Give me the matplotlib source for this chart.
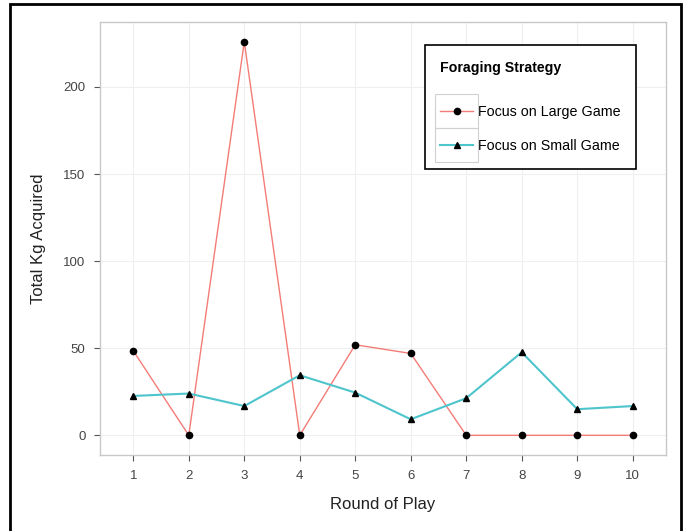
import matplotlib
matplotlib.use("Agg")
import matplotlib.pyplot as plt
from matplotlib.patches import Rectangle

# --- Data ---
rounds = [1, 2, 3, 4, 5, 6, 7, 8, 9, 10]
large_game = [48.5, 0, 226, 0, 52, 47, 0, 0, 0, 0]
small_game = [22.6, 24, 16.8, 34.5, 24.5, 9.2, 21.3, 47.7, 15, 16.8]
y_ticks = [0, 50, 100, 150, 200]

plt.rcParams.update({
    "font.family": ["Liberation Sans", "DejaVu Sans"],
    "font.size": 10,
})

red = "#F47C77"
cyan = "#4EC4CC"

fig = plt.figure(figsize=(6.83, 5.31), dpi=100)
ax = fig.add_axes([100 / 683, 1 - 455 / 531, 566 / 683, 433 / 531])

ax.plot(rounds, large_game, color=red, linewidth=1.0, marker="o",
        markersize=4.5, markerfacecolor="black", markeredgecolor="black",
        label="Focus on Large Game", zorder=3)
ax.plot(rounds, small_game, color=cyan, linewidth=1.5, marker="^",
        markersize=5, markerfacecolor="black", markeredgecolor="black",
        label="Focus on Small Game", zorder=3)

ax.set_xlim(0.4, 10.6)
ax.set_ylim(-11.3, 237.3)
ax.set_xticks(rounds)
ax.set_yticks(y_ticks)

ax.grid(True, color="#EFEFEF", linewidth=0.8, zorder=0)
ax.set_axisbelow(True)
for sp in ax.spines.values():
    sp.set_color("#C8C8C8")
    sp.set_linewidth(1.0)

ax.tick_params(axis="both", length=4, width=0.8, color="#555555",
               labelcolor="#444444", labelsize=9.5, pad=6.5)

ax.set_xlabel("Round of Play", fontsize=12, color="#222222", labelpad=11)
ax.set_ylabel("Total Kg Acquired", fontsize=12, color="#222222", labelpad=12)

leg = ax.legend(
    loc="upper right",
    bbox_to_anchor=((636 - 100) / 566, 1 - (45 - 22) / 433),
    title="Foraging Strategy",
    title_fontproperties={"weight": "bold", "size": 10.2},
    alignment="left",
    fontsize=10.3,
    frameon=True,
    fancybox=False,
    edgecolor="black",
    framealpha=1,
    borderpad=1.1,
    labelspacing=1.4,
    handlelength=2.3,
    handletextpad=0.3,
    borderaxespad=0,
)
leg.get_frame().set_linewidth(1.2)
# wider gap between the legend title and its entries
leg._legend_box.sep = 22

# grey key boxes around the legend handles
fig.canvas.draw()
renderer = fig.canvas.get_renderer()
inv = fig.transFigure.inverted()
extents = [ln.get_window_extent(renderer) for ln in leg.get_lines()]
kx0 = min(bb.x0 for bb in extents) - 2
kx1 = max(bb.x1 for bb in extents) + 1
for bb in extents:
    yc = (bb.y0 + bb.y1) / 2
    x0, y0 = inv.transform((kx0, yc - 17))
    x1, y1 = inv.transform((kx1, yc + 17))
    fig.patches.append(Rectangle((x0, y0), x1 - x0, y1 - y0, fill=False,
                                 edgecolor="#D0D0D0", linewidth=0.8,
                                 transform=fig.transFigure, zorder=10))

# outer black frame
fig.patches.append(Rectangle((10 / 683, -0.02), 671 / 683, 1 - 4 / 531 + 0.02,
                             fill=False, edgecolor="black", linewidth=2.0,
                             transform=fig.transFigure, clip_on=False))

fig.savefig("out.png", dpi=100, facecolor="white")
